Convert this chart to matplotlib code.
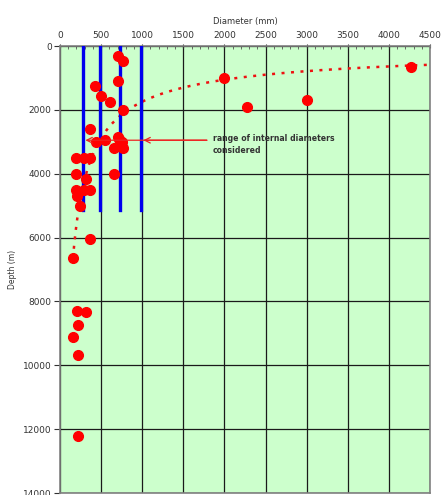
import numpy as np
import matplotlib
matplotlib.use('Agg')
from matplotlib import pyplot as plt

# measured points: internal diameter (mm) against depth (m)
diameter = [700, 770, 705, 430, 500, 610, 770, 370, 435, 550, 700, 760, 655, 770,
            720, 200, 290, 365, 200, 320, 655, 200, 290, 365, 205, 245, 365, 158,
            210, 315, 220, 158, 220, 215, 2000, 2280, 3000, 4270]
depth = [300, 470, 1110, 1260, 1580, 1760, 2010, 2610, 3020, 2930, 2840, 3000,
         3190, 3180, 2900, 3500, 3500, 3500, 4020, 4170, 4000, 4520, 4520, 4520,
         4690, 5020, 6050, 6640, 8310, 8330, 8740, 9110, 9690, 12210, 1010, 1920,
         1690, 650]

# internal diameters considered (mm) and the depth they reach (m)
considered = [275, 485, 730, 980]
considered_depth = 5150

x_ticks = list(range(0, 4501, 500))
y_ticks = list(range(0, 14001, 2000))

fig = plt.figure(figsize=(4.41, 4.95), dpi=100)
ax = fig.add_axes([0.136, 0.004, 0.839, 0.903])
ax.set_facecolor('#ccffcc')

# power trend line, fitted in log space like a spreadsheet trendline
b, loga = np.polyfit(np.log(diameter), np.log(depth), 1)
xs = np.linspace(min(diameter), 4500, 300)
ax.plot(xs, np.exp(loga) * xs ** b, color='#ee1111', lw=1.8,
        dashes=(1.2, 2.6), zorder=3)

for d in considered:
    ax.plot([d, d], [0, considered_depth], color='#0000ee', lw=2.4, zorder=4)

ax.plot(diameter, depth, 'o', color='#ff0000', ms=7, mec='#ff0000', zorder=5)

ax.annotate('', xy=(considered[0], 2950), xytext=(1820, 2950),
            arrowprops=dict(arrowstyle='->', color='#ee2222', lw=0.9), zorder=6)
ax.annotate('', xy=(considered[-1], 2950), xytext=(1820, 2950),
            arrowprops=dict(arrowstyle='->', color='#ee2222', lw=0.9), zorder=6)
ax.text(1860, 2770, 'range of internal diameters\nconsidered', fontsize=5.6,
        fontweight='bold', color='#333333', va='top', ha='left',
        linespacing=1.35)

ax.set_xlim(0, 4500)
ax.set_ylim(14000, 0)
ax.xaxis.tick_top()
ax.xaxis.set_label_position('top')
ax.set_xticks(x_ticks)
ax.set_xticks(range(0, 4501, 100), minor=True)
ax.set_yticks(y_ticks)
ax.tick_params(axis='x', which='major', labelsize=6.5, colors='#333333',
               length=3, direction='inout', pad=3)
ax.tick_params(axis='x', which='minor', length=2.5, direction='in', color='#555555')
ax.tick_params(axis='y', labelsize=6.5, colors='#333333', length=4,
               direction='out', pad=2)
ax.set_xlabel('Diameter (mm)', fontsize=6, color='#333333', labelpad=5)
ax.set_ylabel('Depth (m)', fontsize=5.5, color='#333333')
ax.yaxis.set_label_coords(-0.115, 0.5)

ax.grid(True, which='major', color='#1a1a1a', lw=0.9)
ax.set_axisbelow(True)
for s in ax.spines.values():
    s.set_color('#808080')
    s.set_linewidth(1.2)

fig.savefig('out.png', dpi=100)
